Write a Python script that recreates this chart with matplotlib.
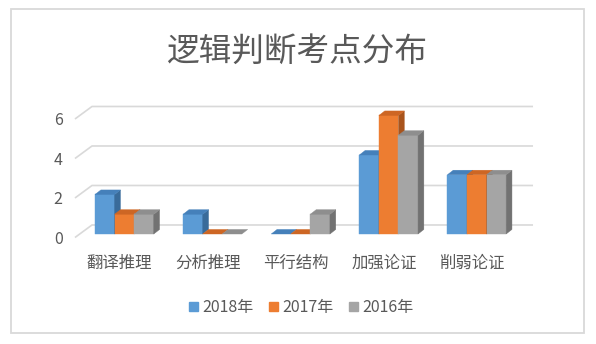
import matplotlib
matplotlib.use('Agg')
import matplotlib.pyplot as plt
from matplotlib.patches import Polygon, Rectangle, Patch

plt.rcParams['font.family'] = ['Noto Sans CJK SC', 'DejaVu Sans']

categories = ['翻译推理', '分析推理', '平行结构', '加强论证', '削弱论证']
series_names = ['2018年', '2017年', '2016年']
values_2018 = [2, 1, 0, 4, 3]
values_2017 = [1, 0, 0, 6, 3]
values_2016 = [1, 0, 1, 5, 3]
y_ticks = [0, 2, 4, 6]

front_colors = ['#5B9BD5', '#ED7D31', '#A5A5A5']
top_colors = ['#4580BA', '#CD6624', '#8E8E8E']
side_colors = ['#396B9A', '#A9541C', '#727272']

TEXT = '#595959'
GRID = '#D9D9D9'
BAR_W = 0.222          # width of one bar, in category units
DX, DY = 0.066, 0.23   # depth of a bar (x in categories, y in values)
WALL_DX, WALL_DY = 0.193, 0.633  # floor depth from the front edge to the back wall
FLOOR_Y = -0.177       # front edge of the floor relative to a value


def draw_bar(ax, x0, h, front, top, side):
    x1 = x0 + BAR_W
    if h > 0:
        ax.add_patch(Rectangle((x0, 0), BAR_W, h, fc=front, ec=front, lw=0.3, zorder=3))
        ax.add_patch(Polygon([(x1, 0), (x1 + DX, DY), (x1 + DX, h + DY), (x1, h)],
                             closed=True, fc=side, ec=side, lw=0.3, zorder=3))
    ax.add_patch(Polygon([(x0, h), (x0 + DX, h + DY), (x1 + DX, h + DY), (x1, h)],
                         closed=True, fc=top, ec=top, lw=0.3, zorder=3))


fig = plt.figure(figsize=(5.96, 3.44), dpi=100)
ax = fig.add_axes([0, 0, 1, 1])
ax.set_xlim(-1.412, 5.353)
ax.set_ylim(-5.570, 11.848)
ax.axis('off')

# back wall gridlines with the slanted floor edge on the left
x_left = -0.561
x_right = len(categories) - 1 + 0.638
for v in y_ticks:
    yf = v + FLOOR_Y
    yb = yf + WALL_DY
    ax.plot([x_left, x_left + WALL_DX, x_right], [yf, yb, yb],
            color=GRID, lw=1.2, zorder=1, solid_capstyle='butt')
    ax.text(x_left - 0.14, v - 0.26, str(v), ha='right', va='center',
            fontsize=11.5, color=TEXT)

series = [values_2018, values_2017, values_2016]
for i, cat in enumerate(categories):
    for k, vals in enumerate(series):
        x0 = i - 1.5 * BAR_W + k * BAR_W
        draw_bar(ax, x0, vals[i], front_colors[k], top_colors[k], side_colors[k])
    ax.text(i - 0.055, -1.47, cat, ha='center', va='center',
            fontsize=11.8, color=TEXT)

fig.text(0.4983, 0.849, '逻辑判断考点分布', ha='center', va='center',
         fontsize=23.5, color=TEXT)

handles = [Patch(fc=c, ec=c) for c in front_colors]
fig.legend(handles, series_names, loc='center', bbox_to_anchor=(0.5057, 0.1055),
           ncol=3, frameon=False, fontsize=11.5, labelcolor=TEXT,
           handlelength=0.55, handleheight=0.55, handletextpad=0.3,
           columnspacing=0.95)

fig.add_artist(Rectangle((11 / 596, 11 / 344), 573 / 596, 324 / 344,
                         transform=fig.transFigure, fill=False, ec=GRID, lw=1.3))

fig.savefig('out.png', dpi=100)
